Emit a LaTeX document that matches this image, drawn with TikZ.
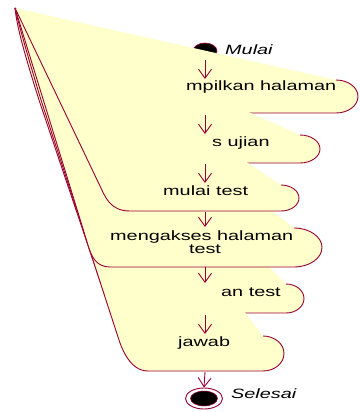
\documentclass[tikz,border=0pt]{standalone}
\usepackage{fontspec}
\setmainfont{Liberation Sans}
\usetikzlibrary{arrows.meta,shapes.geometric}
\definecolor{umlred}{RGB}{153,0,51}
\definecolor{umlyel}{RGB}{255,255,204}
\newcommand{\wtxt}[1]{\scalebox{1.47}[1]{#1}}
% cap: #1 top-x, #2 top-y, #3 x-radius, #4 y-radius
\newcommand{\capto}[4]{(#1,#2) arc[start angle=90,end angle=-90,x radius=#3pt,y radius=#4pt]}
\begin{document}
\begin{tikzpicture}[x=1pt,y=-1pt,
  boxfill/.style={fill=umlyel},
  boxline/.style={draw=umlred,line width=0.9pt},
  lbl/.style={inner sep=0pt,anchor=base west,font=\fontsize{13.5}{15}\selectfont},
  lblc/.style={inner sep=0pt,anchor=base,font=\fontsize{13.5}{15}\selectfont},
  arr/.style={draw=umlred,line width=0.9pt,-{Straight Barb[length=9pt,width=13pt,line width=0.9pt]}}]
\useasboundingbox (0,0) rectangle (359,412);
\coordinate (apex) at (15,8);
% start state
\node[ellipse,fill=black,draw=umlred,line width=0.6pt,minimum width=24pt,minimum height=16pt,inner sep=0pt] (start) at (205,51) {};
% box 1
\fill[boxfill] (apex) -- \capto{336}{80}{22}{16.5} -- (140,113) .. controls (120,113) and (119,100) .. (110,92) -- cycle;
\draw[boxline] \capto{336}{80}{22}{16.5} -- (140,113) .. controls (120,113) and (119,100) .. (110,92) -- (apex);
% box 2
\fill[boxfill] (apex) -- \capto{300}{135}{20}{14} -- (125,163) .. controls (107,163) and (103.3,150.2) .. (97,140) -- cycle;
\draw[boxline] \capto{300}{135}{20}{14} -- (125,163) .. controls (107,163) and (103.3,150.2) .. (97,140) -- (apex);
% box 5
\fill[boxfill] (apex) -- \capto{286}{284}{18}{14.5} -- (128,313) .. controls (112,313) and (106.6,301.5) .. (103,290) -- (39,100) .. controls (29,68) and (17,30) .. (apex) -- cycle;
\draw[boxline] \capto{286}{284}{18}{14.5} -- (128,313) .. controls (112,313) and (106.6,301.5) .. (103,290) -- (39,100) .. controls (29,68) and (17,30) .. (apex);
% box 6
\fill[boxfill] (apex) -- \capto{263}{336}{21}{17.5} -- (148,371) .. controls (130,371) and (121.6,348.5) .. (118,337) -- (41,100) .. controls (32,70) and (20,30) .. (apex) -- cycle;
\draw[boxline] \capto{263}{336}{21}{17.5} -- (148,371) .. controls (130,371) and (121.6,348.5) .. (118,337) -- (41,100) .. controls (32,70) and (20,30) .. (apex);
% box 4
\fill[boxfill] (apex) -- \capto{294}{228}{28}{19.5} -- (110,267) .. controls (96,267) and (91.5,256.5) .. (88,245) -- cycle;
\draw[boxline] \capto{294}{228}{28}{19.5} -- (110,267) .. controls (96,267) and (91.5,256.5) .. (88,245) -- (apex);
% box 3
\fill[boxfill] (apex) -- \capto{281}{185}{18}{13} -- (130,211) .. controls (110,211) and (105.2,196.8) .. (100,186) -- cycle;
\draw[boxline] \capto{281}{185}{18}{13} -- (130,211) .. controls (110,211) and (105.2,196.8) .. (100,186) -- (apex);
% texts
\node[lbl] (t1) at (186,90.5) {\wtxt{mpilkan halaman}};
\node[lbl] (t2) at (212,146.5) {\wtxt{s ujian}};
\node[lbl] (t3) at (163,195.5) {\wtxt{mulai test}};
\node[lbl] (t4a) at (110,240) {\wtxt{mengakses halaman}};
\node[lblc] (t4b) at (205,253.5) {\wtxt{test}};
\node[lbl] (t5) at (221,296) {\wtxt{an test}};
\node[lbl] (t6) at (178,346) {\wtxt{jawab}};
% end state
\node[ellipse,draw=umlred,fill=white,line width=0.9pt,minimum width=37pt,minimum height=21pt,inner sep=0pt] (end) at (204,398.5) {};
\node[ellipse,fill=black,draw=umlred,line width=0.5pt,minimum width=27pt,minimum height=15pt,inner sep=0pt] (endin) at (end.center) {};
% labels
\node[lbl,font=\fontsize{13.5}{15}\selectfont\itshape] (mulai) at (225,54.5) {\wtxt{Mulai}};
\node[lbl,font=\fontsize{13.5}{15}\selectfont\itshape] (selesai) at (231,398.3) {\wtxt{Selesai}};
% arrow end points
\coordinate (a0s) at (205,60);  \coordinate (a0e) at (205,79);
\coordinate (a1s) at (205,115); \coordinate (a1e) at (205,134);
\coordinate (a2s) at (205,164); \coordinate (a2e) at (205,183);
\coordinate (a3s) at (205,212); \coordinate (a3e) at (205,227);
\coordinate (a4s) at (205,267); \coordinate (a4e) at (205,283);
\coordinate (a5s) at (205,315); \coordinate (a5e) at (205,334);
\coordinate (a6s) at (205,372);
\draw[arr] (a0s) -- (a0e);
\draw[arr] (a1s) -- (a1e);
\draw[arr] (a2s) -- (a2e);
\draw[arr] (a3s) -- (a3e);
\draw[arr] (a4s) -- (a4e);
\draw[arr] (a5s) -- (a5e);
\draw[arr] (a6s) -- (end.north);
\end{tikzpicture}
\end{document}
